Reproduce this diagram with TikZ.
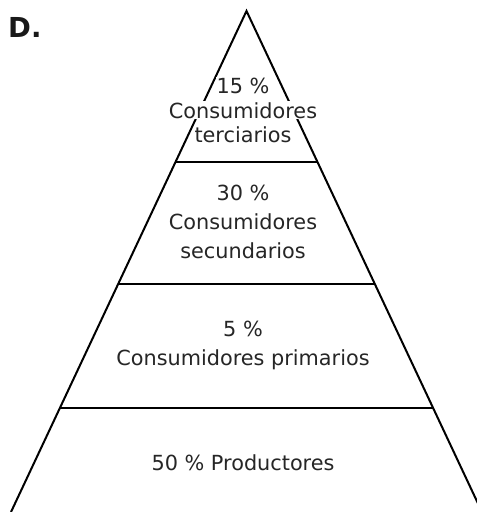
\documentclass[tikz,border=0pt]{standalone}
\usepackage{fontspec}
\setmainfont{DejaVu Sans}
\usetikzlibrary{calc}

\begin{document}
\begin{tikzpicture}[x=1pt,y=-1pt]
  \tikzset{side/.style = {line width=2pt}}
  \tikzset{level/.style = {line width=2pt}}
  \tikzset{lbl/.style = {anchor=base, fill=white, inner sep=1pt,
      text=black!85, font=\fontsize{20.8}{24}\selectfont}}
  \tikzset{tag/.style = {anchor=base west, inner sep=0pt,
      text=black!90, font=\bfseries\fontsize{27.5}{33}\selectfont}}
  \useasboundingbox (0,0) rectangle (477,512);

  % corners
  \coordinate (top) at (246.5,11);
  \coordinate (bl) at (11,512);
  \coordinate (br) at (482,512);
  \coordinate (l1) at ($(top)!0.3014!(bl)$);
  \coordinate (r1) at ($(top)!0.3014!(br)$);
  \coordinate (l2) at ($(top)!0.5449!(bl)$);
  \coordinate (r2) at ($(top)!0.5449!(br)$);
  \coordinate (l3) at ($(top)!0.7924!(bl)$);
  \coordinate (r3) at ($(top)!0.7924!(br)$);

  %edges
  \draw[side] (bl) -- (top) -- (br);
  \draw[level] (l1) -- (r1);
  \draw[level] (l2) -- (r2);
  \draw[level] (l3) -- (r3);

  % labels
  \node[tag] (d) at (8,37) {D.};
  \node[lbl] (t1) at (243,93) {15 \%};
  \node[lbl] (t2) at (243,118) {Consumidores};
  \node[lbl] (t3) at (243,142) {terciarios};
  \node[lbl] (s1) at (243,200) {30 \%};
  \node[lbl] (s2) at (243,229) {Consumidores};
  \node[lbl] (s3) at (243,258) {secundarios};
  \node[lbl] (p1) at (243,336) {5 \%};
  \node[lbl] (p2) at (243,365) {Consumidores primarios};
  \node[lbl] (q1) at (243,470) {50 \% Productores};
\end{tikzpicture}
\end{document}
